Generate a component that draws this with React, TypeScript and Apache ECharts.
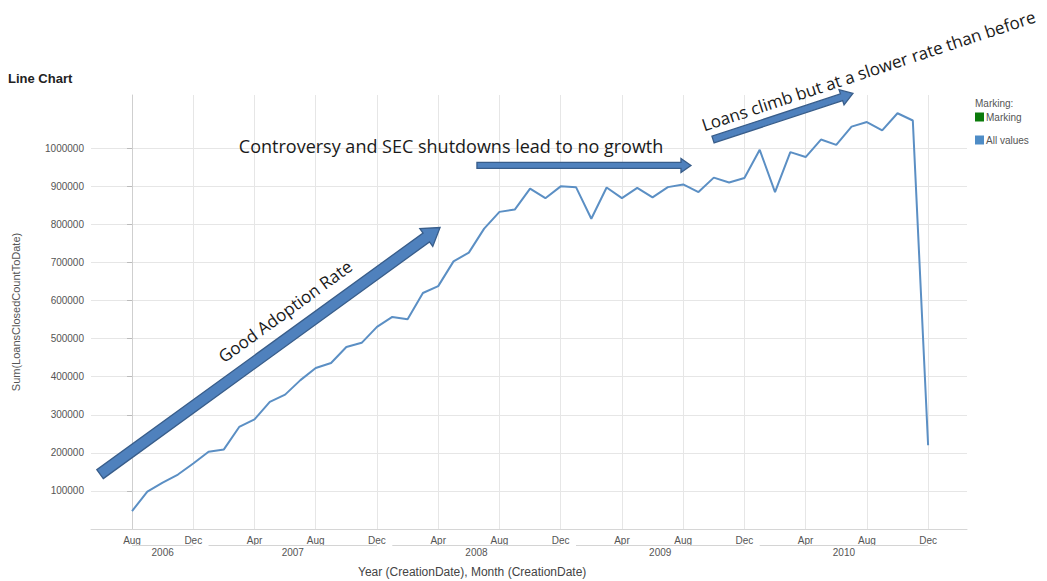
import React, { useEffect, useRef } from 'react';
import * as echarts from 'echarts';

// ---- data ----
const startMonth = 7; // August 2006 (0-based month index)
const monthNames = ['Jan', 'Feb', 'Mar', 'Apr', 'May', 'Jun', 'Jul', 'Aug', 'Sep', 'Oct', 'Nov', 'Dec'];

// Sum(LoansClosedCountToDate), monthly from Aug 2006 to Dec 2010
const loansClosed = [
  47000, 98000, 122000, 143000, 172000,
  203000, 209000, 268000, 288000, 334000, 353000, 391000, 423000, 436000, 478000, 489000, 531000,
  557000, 551000, 620000, 638000, 703000, 726000, 789000, 833000, 839000, 894000, 869000, 900000,
  898000, 815000, 897000, 869000, 896000, 871000, 898000, 905000, 885000, 923000, 910000, 922000,
  996000, 885000, 990000, 977000, 1023000, 1009000, 1057000, 1069000, 1047000, 1092000, 1073000, 220000,
];

const monthTicks = [0, 4, 8, 12, 16, 20, 24, 28, 32, 36, 40, 44, 48, 52];
const yTicks = [100000, 200000, 300000, 400000, 500000, 600000, 700000, 800000, 900000, 1000000];

const yearSpans = [
  { year: '2006', from: 0, to: 4 },
  { year: '2007', from: 5, to: 16 },
  { year: '2008', from: 17, to: 28 },
  { year: '2009', from: 29, to: 40 },
  { year: '2010', from: 41, to: 52 },
];

// annotations in data coordinates (month index, value)
const annotations = [
  { text: 'Good Adoption Rate', from: [-2.09, 144000], to: [20.12, 792000], label: [10.0, 572000] },
  { text: 'Controversy and SEC shutdowns lead to no growth', from: [22.53, 955000], to: [36.51, 955000], label: [20.84, 1005000] },
  { text: 'Loans climb but at a slower rate than before', from: [37.95, 1023000], to: [47.09, 1144000], label: [48.1, 1204000] },
];

const arrowStyles = [
  { shaft: 5.5, wing: 11, head: 17, font: '17px "Open Sans"' },
  { shaft: 3, wing: 7, head: 10, font: '18px "Open Sans"' },
  { shaft: 3.5, wing: 8, head: 12, font: '17px "Open Sans"' },
];

const AXIS_FONT = '"Liberation Sans", Arial, sans-serif';

export default function App() {
  const ref = useRef<HTMLDivElement>(null);

  useEffect(() => {
    if (!ref.current) return;
    const chart = echarts.init(ref.current, undefined, { renderer: 'svg' });

    const xMin = -2.68;
    const xMax = 54.54;

    const option: any = {
      animation: false,
      backgroundColor: '#ffffff',
      title: {
        text: 'Line Chart',
        left: 8,
        top: 72,
        padding: 0,
        textStyle: { fontFamily: AXIS_FONT, fontSize: 13, fontWeight: 'bold', color: '#222' },
      },
      legend: {
        data: ['Marking', 'All values'],
        orient: 'vertical',
        left: 975,
        top: 112,
        padding: 0,
        itemWidth: 9,
        itemHeight: 9,
        itemGap: 13,
        icon: 'rect',
        selectedMode: false,
        textStyle: { fontFamily: AXIS_FONT, fontSize: 10, color: '#555', padding: [0, 0, 0, -3] },
      },
      graphic: [
        {
          type: 'text',
          left: 975,
          top: 98,
          style: { text: 'Marking:', font: `10px ${AXIS_FONT}`, fill: '#555' },
        },
        {
          type: 'text',
          left: 358,
          top: 566,
          style: { text: 'Year (CreationDate), Month (CreationDate)', font: `12px ${AXIS_FONT}`, fill: '#444' },
        },
      ],
      grid: { left: 91, right: 80, top: 95, bottom: 52, outerBoundsMode: 'none', containLabel: false },
      xAxis: [
        {
          type: 'value',
          min: xMin,
          max: xMax,
          axisLine: { show: true, onZero: false, lineStyle: { color: '#d6d6d6', width: 1 } },
          axisTick: { show: false, customValues: monthTicks },
          axisLabel: {
            customValues: monthTicks,
            margin: 6,
            fontFamily: AXIS_FONT,
            fontSize: 10,
            color: '#555',
            formatter: (v: number) => monthNames[(startMonth + Math.round(v)) % 12],
          },
          splitLine: { show: true, lineStyle: { color: '#e6e6e6', width: 1 } },
        },
        {
          type: 'value',
          min: xMin,
          max: xMax,
          position: 'bottom',
          offset: 0,
          axisLine: { show: false },
          axisTick: { show: false, customValues: yearSpans.map((y) => (y.from + y.to) / 2) },
          axisLabel: {
            customValues: yearSpans.map((y) => (y.from + y.to) / 2),
            margin: 18,
            fontFamily: AXIS_FONT,
            fontSize: 10,
            color: '#555',
            formatter: (v: number) => {
              const y = yearSpans.find((s) => Math.abs((s.from + s.to) / 2 - v) < 0.01);
              return y ? y.year : '';
            },
          },
          splitLine: { show: false },
        },
      ],
      yAxis: {
        type: 'value',
        min: 0,
        max: 1140000,
        name: 'Sum(LoansClosedCountToDate)',
        nameLocation: 'middle',
        nameGap: 70,
        nameRotate: 90,
        nameTextStyle: { fontFamily: AXIS_FONT, fontSize: 11, color: '#555' },
        axisLine: { show: true, lineStyle: { color: '#cfcfcf' } },
        axisTick: { show: true, length: 5, customValues: yTicks, lineStyle: { color: '#bbb' } },
        axisLabel: {
          customValues: yTicks,
          margin: 7,
          fontFamily: AXIS_FONT,
          fontSize: 10,
          color: '#555',
          formatter: (v: number) => String(v),
        },
        splitLine: { show: true, lineStyle: { color: '#e6e6e6', width: 1 } },
      },
      series: [
        {
          name: 'Marking',
          type: 'line',
          data: [],
          itemStyle: { color: '#0b7a0b' },
          lineStyle: { color: '#0b7a0b' },
        },
        {
          name: 'All values',
          type: 'line',
          data: loansClosed.map((v, i) => [i, v]),
          showSymbol: false,
          symbol: 'none',
          itemStyle: { color: '#4e8cc6' },
          lineStyle: { color: '#5b8fc4', width: 2 },
          z: 3,
        },
        {
          name: 'years',
          type: 'custom',
          clip: false,
          silent: true,
          data: yearSpans.map((y) => [y.from, y.to]),
          renderItem: (params: any, api: any) => {
            const p1 = api.coord([api.value(0), 0]);
            const p2 = api.coord([api.value(1), 0]);
            const yy = p1[1] + 16.5;
            return {
              type: 'line',
              shape: { x1: p1[0], y1: yy, x2: p2[0], y2: yy },
              style: { stroke: '#d4d4d4', lineWidth: 1 },
            };
          },
          z: 1,
        },
        {
          name: 'annotations',
          type: 'custom',
          clip: false,
          silent: true,
          data: annotations.map((a) => [a.from[0], a.from[1], a.to[0], a.to[1]]),
          renderItem: (params: any, api: any) => {
            const i = params.dataIndex;
            const a = annotations[i];
            const st = arrowStyles[i];
            const p1 = api.coord(a.from);
            const p2 = api.coord(a.to);
            const pl = api.coord(a.label);
            const dx = p2[0] - p1[0];
            const dy = p2[1] - p1[1];
            const len = Math.hypot(dx, dy);
            const ux = dx / len;
            const uy = dy / len;
            const nx = -uy;
            const ny = ux;
            const bx = p2[0] - ux * st.head;
            const by = p2[1] - uy * st.head;
            const pts = [
              [p1[0] + nx * st.shaft, p1[1] + ny * st.shaft],
              [bx + nx * st.shaft, by + ny * st.shaft],
              [bx + nx * st.wing, by + ny * st.wing],
              [p2[0], p2[1]],
              [bx - nx * st.wing, by - ny * st.wing],
              [bx - nx * st.shaft, by - ny * st.shaft],
              [p1[0] - nx * st.shaft, p1[1] - ny * st.shaft],
            ];
            const rot = Math.atan2(-dy, dx);
            return {
              type: 'group',
              children: [
                {
                  type: 'polygon',
                  shape: { points: pts },
                  style: { fill: '#4F81BD', stroke: '#385D8A', lineWidth: 1.3 },
                },
                {
                  type: 'text',
                  x: pl[0],
                  y: pl[1],
                  rotation: rot,
                  style: {
                    text: a.text,
                    font: st.font,
                    fill: '#1a1a1a',
                    align: 'center',
                    verticalAlign: 'middle',
                  },
                },
              ],
            };
          },
          z: 5,
        },
      ],
    };

    chart.setOption(option);
    return () => chart.dispose();
  }, []);

  return (
    <div
      ref={ref}
      style={{ position: 'fixed', left: 0, top: 0, width: 1047, height: 581, background: '#fff' }}
    />
  );
}
